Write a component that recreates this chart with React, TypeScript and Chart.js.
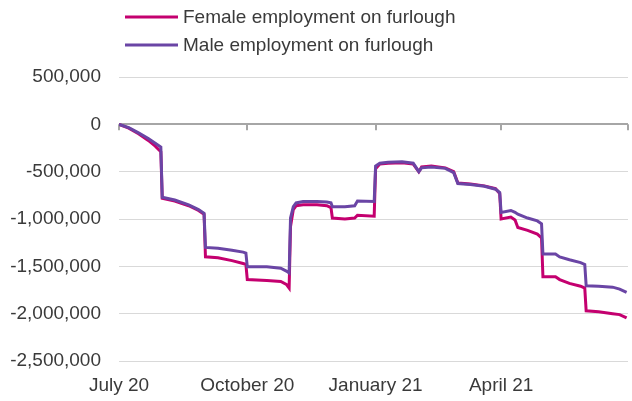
import React, { useEffect, useRef } from "react";
import { Chart, registerables } from "chart.js";

Chart.register(...registerables);

const startDate = "2020-07-01";

const dates = [
  "2020-07-01", "2020-07-08", "2020-07-15", "2020-07-22", "2020-07-27", "2020-07-31",
  "2020-08-01", "2020-08-10", "2020-08-20", "2020-08-27", "2020-08-31",
  "2020-09-01", "2020-09-10", "2020-09-20", "2020-09-28", "2020-09-30",
  "2020-10-01", "2020-10-15", "2020-10-25", "2020-10-29", "2020-10-31",
  "2020-11-01", "2020-11-03", "2020-11-05", "2020-11-10", "2020-11-20", "2020-11-27", "2020-11-30",
  "2020-12-01", "2020-12-10", "2020-12-17", "2020-12-19", "2020-12-31",
  "2021-01-01", "2021-01-04", "2021-01-10", "2021-01-20", "2021-01-28",
  "2021-02-01", "2021-02-03", "2021-02-10", "2021-02-20", "2021-02-26",
  "2021-03-01", "2021-03-10", "2021-03-20", "2021-03-28", "2021-03-31",
  "2021-04-01", "2021-04-08", "2021-04-11", "2021-04-13", "2021-04-20", "2021-04-27", "2021-04-30",
  "2021-05-01", "2021-05-10", "2021-05-13", "2021-05-20", "2021-05-28", "2021-05-31",
  "2021-06-01", "2021-06-10", "2021-06-20", "2021-06-25", "2021-06-30",
];

const femaleValues = [
  0, -40000, -100000, -170000, -230000, -290000,
  -780000, -810000, -860000, -910000, -950000,
  -1400000, -1410000, -1440000, -1470000, -1480000,
  -1640000, -1650000, -1660000, -1690000, -1730000,
  -1080000, -900000, -860000, -850000, -850000, -860000, -880000,
  -990000, -1000000, -990000, -960000, -970000,
  -470000, -420000, -410000, -405000, -420000,
  -500000, -450000, -440000, -460000, -500000,
  -620000, -630000, -650000, -680000, -730000,
  -1000000, -980000, -1010000, -1090000, -1120000, -1160000, -1200000,
  -1610000, -1610000, -1640000, -1680000, -1710000, -1730000,
  -1970000, -1980000, -2000000, -2010000, -2045000,
];

const maleValues = [
  0, -35000, -90000, -150000, -200000, -240000,
  -770000, -800000, -850000, -900000, -940000,
  -1300000, -1310000, -1330000, -1350000, -1360000,
  -1505000, -1505000, -1520000, -1550000, -1570000,
  -990000, -870000, -830000, -815000, -815000, -820000, -830000,
  -870000, -870000, -860000, -810000, -815000,
  -440000, -410000, -400000, -395000, -410000,
  -500000, -460000, -450000, -465000, -510000,
  -625000, -635000, -655000, -685000, -720000,
  -930000, -910000, -930000, -950000, -990000, -1020000, -1050000,
  -1370000, -1370000, -1400000, -1430000, -1460000, -1480000,
  -1705000, -1710000, -1720000, -1740000, -1775000,
];

const tickDates = ["2020-07-01", "2020-10-01", "2021-01-01", "2021-04-01", "2021-07-01"];
const tickLabels = ["July 20", "October 20", "January 21", "April 21", ""];

const seriesNames = ["Female employment on furlough", "Male employment on furlough"];
const seriesColors = ["#c4006f", "#6a45a5"];

const yMin = -2500000;
const yMax = 500000;
const yStep = 500000;

const DAY = 86400000;
const dayOffset = (d: string) => Math.round((Date.parse(d) - Date.parse(startDate)) / DAY);

const FONT = "'Liberation Sans', Arial, sans-serif";
const TEXT = "#3a3a3a";

const legendPlugin = {
  id: "customLegend",
  afterDraw(chart: any) {
    const ctx = chart.ctx;
    ctx.save();
    chart.data.datasets.forEach((ds: any, i: number) => {
      const y = 17 + i * 28;
      ctx.strokeStyle = ds.borderColor;
      ctx.lineWidth = 3;
      ctx.beginPath();
      ctx.moveTo(125, y);
      ctx.lineTo(178, y);
      ctx.stroke();
      ctx.fillStyle = TEXT;
      ctx.font = `19px ${FONT}`;
      ctx.textBaseline = "middle";
      ctx.textAlign = "left";
      ctx.fillText(ds.label, 183, y + 1);
    });
    ctx.restore();
  },
};

const zeroTicksPlugin = {
  id: "zeroTicks",
  beforeDatasetsDraw(chart: any) {
    const { ctx, scales } = chart;
    const x = scales.x;
    const y0 = scales.y.getPixelForValue(0);
    ctx.save();
    ctx.strokeStyle = "#a6a6a6";
    ctx.lineWidth = 2;
    x.ticks.forEach((t: any) => {
      const px = Math.round(x.getPixelForValue(t.value));
      ctx.beginPath();
      ctx.moveTo(px, y0);
      ctx.lineTo(px, y0 + 6);
      ctx.stroke();
    });
    ctx.restore();
  },
};

export default function App() {
  const ref = useRef<HTMLCanvasElement>(null);
  useEffect(() => {
    if (!ref.current) return;
    const xs = dates.map(dayOffset);
    const tickXs = tickDates.map(dayOffset);
    const chart = new Chart(ref.current, {
      type: "line",
      data: {
        datasets: [
          {
            label: seriesNames[0],
            data: xs.map((x, i) => ({ x, y: femaleValues[i] })),
            borderColor: seriesColors[0],
            backgroundColor: seriesColors[0],
            borderWidth: 3,
            pointRadius: 0,
            pointHoverRadius: 0,
            tension: 0,
            order: 1,
          },
          {
            label: seriesNames[1],
            data: xs.map((x, i) => ({ x, y: maleValues[i] })),
            borderColor: seriesColors[1],
            backgroundColor: seriesColors[1],
            borderWidth: 3,
            pointRadius: 0,
            pointHoverRadius: 0,
            tension: 0,
            order: 0,
          },
        ],
      },
      options: {
        animation: false,
        responsive: false,
        maintainAspectRatio: false,
        layout: { autoPadding: false, padding: { top: 77, right: 4, bottom: 0, left: 0 } },
        plugins: { legend: { display: false }, tooltip: { enabled: false } },
        scales: {
          x: {
            type: "linear",
            min: tickXs[0],
            max: tickXs[tickXs.length - 1],
            grid: { display: false, drawTicks: false },
            border: { display: false },
            afterBuildTicks: (scale: any) => {
              scale.ticks = tickXs.map((v) => ({ value: v }));
            },
            afterFit: (scale: any) => {
              scale.height = 40;
              scale.paddingRight = 0;
              scale.paddingLeft = 0;
            },
            ticks: {
              padding: 13,
              maxRotation: 0,
              autoSkip: false,
              color: TEXT,
              font: { family: FONT, size: 19 },
              callback: (v: any) => {
                const i = tickXs.indexOf(Number(v));
                return i >= 0 ? tickLabels[i] : "";
              },
            },
          },
          y: {
            min: yMin,
            max: yMax,
            afterFit: (scale: any) => {
              scale.width = 119;
            },
            grid: {
              drawTicks: false,
              color: (c: any) => (c.tick && c.tick.value === 0 ? "#a6a6a6" : "#d9d9d9"),
              lineWidth: (c: any) => (c.tick && c.tick.value === 0 ? 2 : 1),
            },
            border: { display: false },
            ticks: {
              stepSize: yStep,
              padding: 18,
              color: TEXT,
              font: { family: FONT, size: 19 },
              callback: (v: any) => Number(v).toLocaleString("en-US"),
            },
          },
        },
      },
      plugins: [legendPlugin, zeroTicksPlugin],
    });
    return () => chart.destroy();
  }, []);
  return (
    <div style={{ position: "fixed", left: 0, top: 0, width: 632, height: 401, background: "#fff" }}>
      <canvas ref={ref} width={632} height={401} style={{ display: "block" }} />
    </div>
  );
}
